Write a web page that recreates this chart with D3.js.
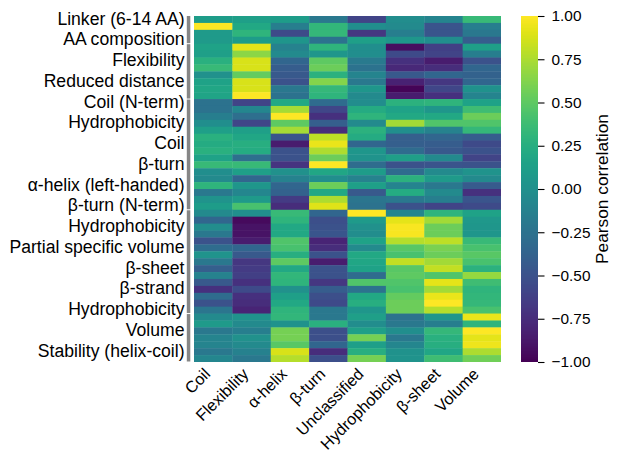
<!DOCTYPE html>
<html>
<head>
<meta charset="utf-8">
<script src="https://cdn.jsdelivr.net/npm/d3@7"></script>
<style>
  html, body { margin: 0; padding: 0; background: #fff; }
  text { font-family: "Liberation Sans", Arial, sans-serif; fill: #000; }
</style>
</head>
<body>
<svg id="chart" width="622" height="462"></svg>
<script>
const columns = ["Coil", "Flexibility", "α-helix", "β-turn", "Unclassified", "Hydrophobicity", "β-sheet", "Volume"];

const rowLabels = ["Linker (6-14 AA)", "AA composition", "Flexibility", "Reduced distance", "Coil (N-term)",
  "Hydrophobicity", "Coil", "β-turn", "α-helix (left-handed)", "β-turn (N-term)", "Hydrophobicity",
  "Partial specific volume", "β-sheet", "β-strand", "Hydrophobicity", "Volume", "Stability (helix-coil)"];

// Every third row carries a label
const labelStep = 3;

// First row index of each property group, plus the closing index
const groupStarts = [0, 4, 12, 28, 43, 50];

const correlations = [
  [0.10, 0.12, 0.10, -0.20, -0.60, -0.03, -0.10, 0.35],
  [1.00, 0.20, -0.15, 0.32, -0.02, -0.05, -0.48, -0.15],
  [0.08, 0.30, -0.55, 0.33, -0.68, -0.15, -0.47, -0.20],
  [0.08, 0.10, 0.04, -0.25, 0.12, 0.05, -0.02, -0.42],
  [0.15, 0.92, -0.12, 0.30, -0.02, -0.93, -0.63, 0.12],
  [0.12, 0.65, -0.05, 0.05, -0.02, -0.55, -0.60, -0.15],
  [0.27, 0.88, -0.35, 0.50, -0.18, -0.72, -0.85, -0.50],
  [0.35, 0.88, -0.42, 0.55, -0.25, -0.78, -0.75, -0.35],
  [0.00, 0.52, -0.45, 0.28, -0.10, -0.45, -0.35, -0.38],
  [0.15, 0.88, -0.50, 0.63, -0.20, -0.82, -0.68, -0.35],
  [0.18, 0.88, -0.20, 0.33, 0.05, -0.98, -0.58, 0.02],
  [0.17, 1.00, -0.25, 0.30, -0.05, -0.85, -0.72, -0.10],
  [-0.25, -0.60, 0.20, -0.30, -0.03, 0.28, 0.30, 0.15],
  [-0.25, -0.08, 0.73, -0.58, 0.22, 0.15, 0.05, 0.38],
  [-0.15, -0.28, 1.00, -0.72, 0.30, 0.20, 0.20, 0.55],
  [-0.02, -0.58, 0.50, -0.40, -0.05, 0.72, 0.45, 0.45],
  [0.12, 0.12, 0.73, -0.75, 0.28, -0.02, -0.12, 0.33],
  [0.27, 0.18, -0.47, 0.80, 0.22, -0.40, -0.35, -0.42],
  [0.22, 0.25, -0.85, 0.93, -0.35, -0.40, -0.42, -0.55],
  [0.27, 0.23, -0.50, 0.75, 0.05, -0.30, -0.45, -0.50],
  [0.15, -0.28, -0.50, 0.55, 0.03, 0.12, -0.05, -0.60],
  [0.35, 0.35, -0.70, 1.00, -0.30, -0.50, -0.48, -0.50],
  [-0.02, 0.12, 0.00, 0.18, 0.10, -0.30, -0.05, 0.03],
  [-0.05, -0.35, -0.12, -0.02, -0.12, 0.28, 0.08, -0.05],
  [0.30, 0.05, -0.35, 0.55, 0.12, -0.10, -0.20, -0.43],
  [-0.20, -0.08, -0.38, 0.20, -0.45, 0.23, -0.05, -0.72],
  [0.03, 0.08, -0.65, 0.75, -0.22, -0.20, -0.15, -0.48],
  [0.10, 0.42, -0.75, 0.90, -0.25, -0.50, -0.60, -0.55],
  [-0.05, -0.02, 0.35, -0.35, 1.00, -0.08, 0.30, 0.15],
  [-0.35, -0.95, 0.30, -0.52, 0.08, 0.92, 0.72, 0.07],
  [-0.03, -0.90, 0.20, -0.50, 0.00, 0.98, 0.55, 0.05],
  [-0.20, -0.90, 0.20, -0.47, -0.03, 0.98, 0.55, 0.05],
  [-0.50, -0.85, 0.45, -0.80, 0.15, 0.78, 0.80, 0.35],
  [-0.30, -0.35, 0.42, -0.75, -0.05, 0.48, 0.60, 0.42],
  [0.03, -0.45, 0.25, -0.50, 0.20, 0.42, 0.55, 0.48],
  [-0.20, -0.68, 0.50, -0.85, 0.18, 0.82, 0.72, 0.42],
  [-0.40, -0.65, 0.20, -0.50, 0.15, 0.48, 0.82, 0.28],
  [-0.12, -0.63, 0.32, -0.50, -0.30, 0.50, 0.45, 0.68],
  [-0.45, -0.72, 0.30, -0.68, 0.45, 0.45, 0.92, 0.38],
  [-0.72, -0.55, 0.00, -0.42, -0.25, 0.42, 0.72, 0.30],
  [-0.30, -0.72, 0.12, -0.52, 0.20, 0.52, 0.93, 0.32],
  [-0.50, -0.75, 0.20, -0.55, 0.25, 0.55, 1.00, 0.33],
  [-0.22, -0.80, 0.30, -0.20, 0.05, 0.55, 0.78, 0.42],
  [-0.05, 0.03, 0.32, -0.20, 0.12, -0.25, 0.05, 0.93],
  [0.08, -0.05, 0.02, 0.27, -0.03, -0.20, -0.15, 0.30],
  [-0.20, -0.15, 0.58, -0.52, 0.12, -0.02, 0.33, 1.00],
  [-0.10, 0.00, 0.58, -0.52, 0.58, -0.20, 0.27, 0.92],
  [-0.10, -0.05, 0.48, -0.35, 0.12, -0.08, 0.25, 0.95],
  [-0.20, -0.13, 0.88, -0.75, 0.25, 0.02, 0.18, 0.75],
  [-0.08, -0.20, 0.78, -0.52, 0.58, 0.03, 0.38, 0.57]
];

const colorbarTicks = [-1, -0.75, -0.5, -0.25, 0, 0.25, 0.5, 0.75, 1];

const svg = d3.select("#chart");

const plot = { left: 194, right: 501, top: 16, bottom: 362 };
const rowIndex = d3.range(correlations.length);

const x = d3.scaleBand().domain(columns).range([plot.left, plot.right]);
const y = d3.scaleBand().domain(rowIndex).range([plot.top, plot.bottom]);
const color = d3.scaleSequential(d3.interpolateViridis).domain([-1, 1]);

// Heatmap cells; a hairline overdraw hides antialiasing seams
const rows = svg.append("g").selectAll("g")
  .data(correlations)
  .join("g");

rows.selectAll("rect")
  .data((vals, r) => vals.map((v, c) => ({ r, c, v })))
  .join("rect")
  .attr("x", d => x(columns[d.c]))
  .attr("y", d => y(d.r))
  .attr("width", d => x.bandwidth() + (d.c < columns.length - 1 ? 0.4 : 0))
  .attr("height", d => y.bandwidth() + (d.r < correlations.length - 1 ? 0.4 : 0))
  .attr("fill", d => color(d.v));

// Row labels on every third row
const yAxis = d3.axisLeft(
    d3.scalePoint().domain(rowLabels.map((_, i) => i * labelStep))
      .range([y(0) + y.bandwidth() / 2, y((rowLabels.length - 1) * labelStep) + y.bandwidth() / 2]))
  .tickSize(0)
  .tickPadding(0)
  .tickFormat(i => rowLabels[i / labelStep]);

svg.append("g")
  .attr("transform", "translate(184.5,-1)")
  .call(yAxis)
  .call(g => g.select(".domain").remove())
  .selectAll("text")
  .style("font-size", "17.6px")
  .style("font-family", "'Liberation Sans', Arial, sans-serif")
  .attr("fill", "#000");

// Grey bars marking the property groups, separated by thin gaps
const groupEdge = i => (i < correlations.length ? y(i) : plot.bottom);
svg.append("g").selectAll("rect")
  .data(d3.pairs(groupStarts))
  .join("rect")
  .attr("x", 186.8)
  .attr("width", 3.5)
  .attr("y", d => groupEdge(d[0]) + (d[0] === 0 ? 0 : 0.5))
  .attr("height", d => groupEdge(d[1]) - groupEdge(d[0]) - (d[0] === 0 ? 0.5 : 1))
  .attr("fill", "#868686");

// Column labels, rotated and right-aligned under each column
const xAxis = d3.axisBottom(x).tickSize(0).tickPadding(0);
svg.append("g")
  .attr("transform", `translate(0,${plot.bottom})`)
  .call(xAxis)
  .call(g => g.select(".domain").remove())
  .selectAll("text")
  .attr("transform", "translate(-10,5) rotate(-45)")
  .attr("text-anchor", "end")
  .attr("dy", "0.7em")
  .style("font-size", "16.2px")
  .style("font-family", "'Liberation Sans', Arial, sans-serif")
  .attr("fill", "#000");

// Colour bar
const bar = { left: 521, right: 538 };
const barScale = d3.scaleLinear().domain([-1, 1]).range([plot.bottom, plot.top]);
const barSteps = d3.range(plot.top, plot.bottom);
svg.append("g").selectAll("rect")
  .data(barSteps)
  .join("rect")
  .attr("x", bar.left)
  .attr("y", d => d)
  .attr("width", bar.right - bar.left)
  .attr("height", d => (d === plot.bottom - 1 ? 1 : 1.3))
  .attr("fill", d => color(barScale.invert(d + 0.5)));

svg.append("g")
  .attr("transform", `translate(${bar.right},0)`)
  .call(d3.axisRight(barScale).tickValues(colorbarTicks).tickFormat(d3.format(".2f")).tickSize(6.5).tickPadding(7))
  .call(g => g.select(".domain").remove())
  .call(g => g.selectAll("line").attr("stroke", "#000").attr("stroke-width", 1.1))
  .selectAll("text")
  .style("font-size", "15.4px")
  .style("font-family", "'Liberation Sans', Arial, sans-serif")
  .attr("fill", "#000");

svg.append("text")
  .attr("transform", `translate(608,${(plot.top + plot.bottom) / 2}) rotate(-90)`)
  .attr("text-anchor", "middle")
  .style("font-size", "17.3px")
  .text("Pearson correlation");
</script>
</body>
</html>
